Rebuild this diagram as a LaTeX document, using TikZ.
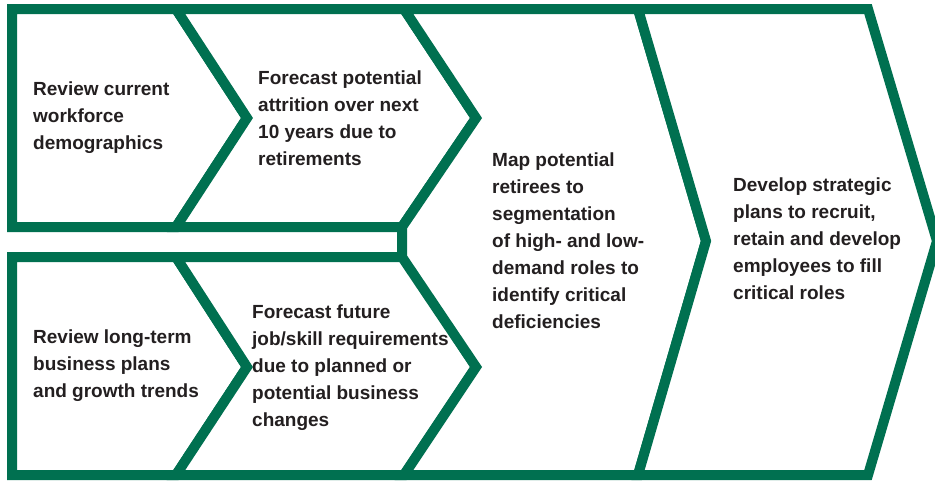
\documentclass[tikz,border=0pt]{standalone}
\usepackage{fontspec}
\setmainfont{Liberation Sans}
\usetikzlibrary{positioning}
\definecolor{my_green}{RGB}{0, 112, 80}
\definecolor{my_text}{RGB}{35, 31, 32}
\tikzset {
  chevron/.style = {draw=my_green, line width=10pt, fill=white, line join=miter, miter limit=10},
  stagetext/.style = {inner sep=0, anchor=west, align=left, text=my_text, font=\fontsize{19}{27}\selectfont\bfseries}
}

\begin{document}
\begin{tikzpicture}[x=1pt, y=-1pt]

    \useasboundingbox (0,0) rectangle (935,480);

    % top row
    \draw[chevron] (12,9) -- (176,9) -- (247,118) -- (176,227) -- (12,227) -- cycle;
    \draw[chevron] (176,9) -- (404,9) -- (476,118) -- (402,227) -- (176,227) -- (247,118) -- cycle;

    % bottom row
    \draw[chevron] (12,257) -- (176,257) -- (247,367) -- (176,475) -- (12,475) -- cycle;
    \draw[chevron] (176,257) -- (404,257) -- (476,367) -- (404,475) -- (176,475) -- (247,367) -- cycle;

    % joint stages
    \draw[chevron] (404,9) -- (638,9) -- (706,241) -- (638,475) -- (404,475) -- (476,367) -- (402,257) -- (402,227) -- (476,118) -- cycle;
    \draw[chevron] (638,9) -- (868,9) -- (937,241) -- (868,475) -- (638,475) -- (706,241) -- cycle;

    \node[stagetext] (workforce) at (33,118) {Review current\\workforce\\demographics};
    \node[stagetext] (attrition) at (258,118) {Forecast potential\\attrition over next\\10 years due to\\retirements};
    \node[stagetext] (business) at (33,366) {Review long-term\\business plans\\and growth trends};
    \node[stagetext] (skills) at (252,368) {Forecast future\\job/skill requirements\\due to planned or\\potential business\\changes};
    \node[stagetext] (mapping) at (492,241) {Map potential\\retirees to\\segmentation\\of high- and low-\\demand roles to\\identify critical\\deficiencies};
    \node[stagetext] (plans) at (733,239) {Develop strategic\\plans to recruit,\\retain and develop\\employees to fill\\critical roles};

\end{tikzpicture}
\end{document}
